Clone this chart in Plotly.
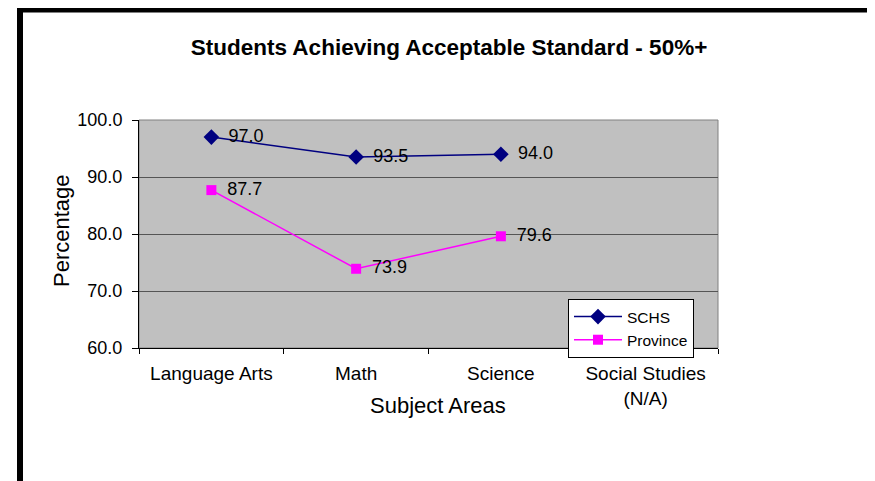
import plotly.graph_objects as go

categories = ["Language Arts", "Math", "Science", "Social Studies<br>(N/A)"]
schs_values = [97.0, 93.5, 94.0, None]
province_values = [87.7, 73.9, 79.6, None]
y_ticks = [60, 70, 80, 90, 100]

def labels(vals):
    return [f" \u2009{v:.1f}" if v is not None else "" for v in vals]

fig = go.Figure()
fig.add_trace(go.Scatter(
    x=categories, y=schs_values, name="SCHS", mode="lines+markers+text",
    line=dict(color="#000080", width=1.5),
    marker=dict(symbol="diamond", size=12, color="#000080"),
    text=labels(schs_values), textposition="middle right",
    textfont=dict(family="Arial", size=18, color="black"),
))
fig.add_trace(go.Scatter(
    x=categories, y=province_values, name="Province", mode="lines+markers+text",
    line=dict(color="#FF00FF", width=1.5),
    marker=dict(symbol="square", size=10, color="#FF00FF"),
    text=labels(province_values), textposition="middle right",
    textfont=dict(family="Arial", size=18, color="black"),
))

OFF = 8  # page body margin
W, H = 875, 481
L, R, T, B = 139 - OFF, 718 - OFF, 120 - OFF, 348 - OFF
pw, ph = R - L, B - T

def px(x):
    return (x - OFF - L) / pw

def py(y):
    return (B - (y - OFF)) / ph

fig.update_layout(
    width=W, height=H,
    margin=dict(l=L, r=W - R, t=T, b=H - B, pad=0),
    paper_bgcolor="white", plot_bgcolor="#C0C0C0",
    font=dict(family="Arial", color="black"),
    title=dict(text="<b>Students Achieving Acceptable Standard - 50%+</b>",
               x=(449 - OFF) / W, xanchor="center", y=1 - (47 - OFF) / H, yanchor="middle",
               font=dict(size=22.5)),
    showlegend=True,
    legend=dict(x=px(568), y=py(299), xanchor="left", yanchor="top",
                bgcolor="white", bordercolor="black", borderwidth=1,
                font=dict(size=15.5), tracegroupgap=0, itemwidth=48),
    xaxis=dict(
        type="category", range=[-0.5, 3.5], tickson="boundaries",
        ticks="outside", ticklen=5, tickcolor="black",
        showline=True, linecolor="black", linewidth=1,
        showgrid=False, tickfont=dict(size=19), ticklabelstandoff=8,
    ),
    yaxis=dict(
        range=[60, 100], tickvals=y_ticks, tickformat=".1f",
        ticks="outside", ticklen=6, tickcolor="black",
        showline=True, linecolor="black", linewidth=1,
        showgrid=True, gridcolor="#555555", gridwidth=1,
        tickfont=dict(size=18), zeroline=False, ticklabelstandoff=6,
    ),
    annotations=[
        dict(text="Subject Areas", xref="paper", yref="paper",
             x=px(438), y=py(405), xanchor="center", yanchor="middle",
             showarrow=False, font=dict(size=22)),
        dict(text="Percentage", xref="paper", yref="paper",
             x=px(61), y=py(231), xanchor="center", yanchor="middle",
             textangle=-90, showarrow=False, font=dict(size=22)),
    ],
    shapes=[
        dict(type="rect", xref="paper", yref="paper", x0=0, x1=1, y0=0, y1=1,
             line=dict(color="#808080", width=1), layer="below"),
        dict(type="rect", xref="paper", yref="paper",
             x0=px(20), x1=px(871), y0=py(9.5), y1=py(500),
             line=dict(color="black", width=6)),
    ],
)

fig.write_html("out.html")
